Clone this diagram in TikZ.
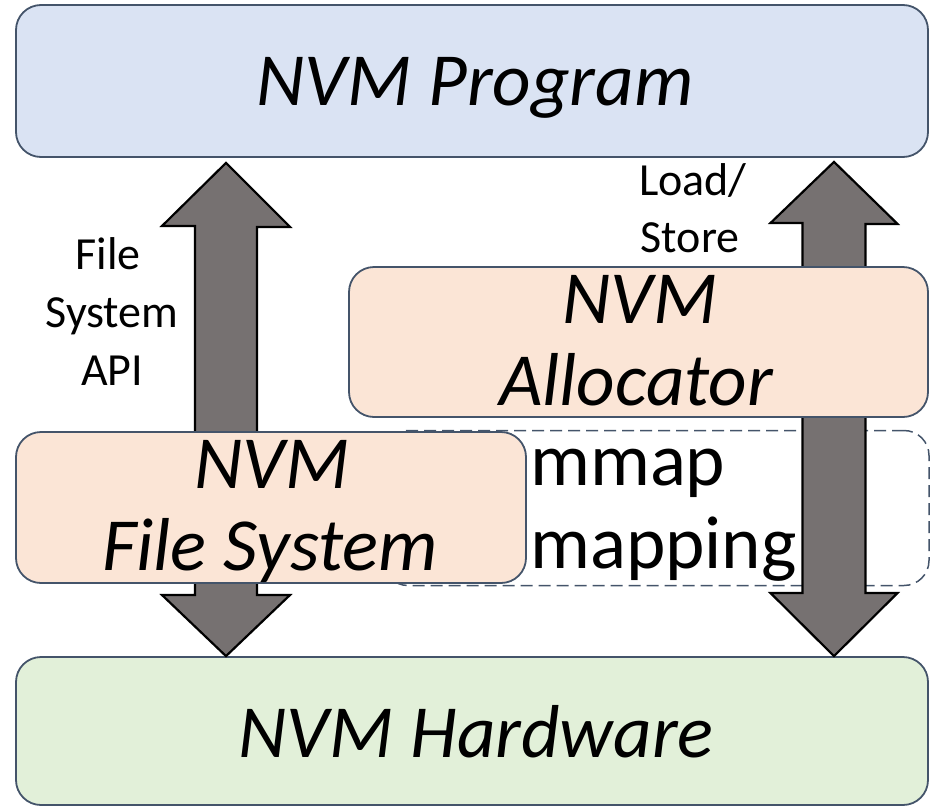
\documentclass[tikz,border=0pt]{standalone}
\usepackage{fontspec}
\setmainfont{Carlito}
\definecolor{edge}{HTML}{44546A}
\definecolor{progfill}{HTML}{DAE3F3}
\definecolor{swfill}{HTML}{FBE5D6}
\definecolor{hwfill}{HTML}{E2F0D9}
\definecolor{arrowfill}{HTML}{767171}
\begin{document}
\begin{tikzpicture}[x=1pt,y=-1pt,
  layer/.style={draw=edge, line width=1.8pt, rounded corners=25pt, inner sep=0pt},
  bigtext/.style={font=\fontsize{75}{82}\selectfont\itshape, anchor=base, inner sep=0pt},
  uptext/.style={font=\fontsize{75}{82}\selectfont, anchor=base west, fill=white, inner sep=2pt},
  smalltext/.style={font=\fontsize{46}{57}\selectfont, anchor=base, inner sep=0pt},
  bigarrow/.style={draw=black, line width=2.2pt, fill=arrowfill, line join=miter}]
\useasboundingbox (0,0) rectangle (931,806);

% top and bottom layers
\node[layer, fill=progfill, minimum width=912pt, minimum height=152pt] (prog) at (472,81) {};
\node[bigtext] (progtxt) at (475,105) {NVM Program};
\node[layer, fill=hwfill, minimum width=912pt, minimum height=148pt] (hw) at (472,731) {};
\node[bigtext] (hwtxt) at (476,757) {NVM Hardware};

% mmap region
\node[draw=edge, line width=1.5pt, dashed, dash pattern=on 12pt off 6pt,
  rounded corners=25pt, minimum width=546pt, minimum height=155pt]
  (mmapbox) at (656,508) {};
\node[uptext] (mmap1) at (528,485) {mmap};
\node[uptext] (mmap2) at (528,568) {mapping};

% block arrows between program and hardware
\coordinate (la) at (226,0);
\coordinate (ra) at (834,0);
\draw[bigarrow] (la |- prog.south) ++(0,5)
  -- ++(64,64) -- ++(-33,0) -- (257,595) -- ++(33,0) -- (la |- hw.north)
  -- (162,595) -- ++(33,0) -- (195,226) -- ++(-33,0) -- cycle;
\draw[bigarrow] (ra |- prog.south) ++(0,4)
  -- ++(63.5,62) -- ++(-32,0) -- (865.5,593) -- ++(32,0) -- (ra |- hw.north)
  -- (770.5,593) -- ++(32,0) -- (802.5,223) -- ++(-32,0) -- cycle;

% software layers
\node[layer, fill=swfill, minimum width=579pt, minimum height=150pt] (alloc) at (638.5,342) {};
\node[bigtext] (alloc1) at (640,323) {NVM};
\node[bigtext] (alloc2) at (636,405) {Allocator};
\node[layer, fill=swfill, minimum width=510pt, minimum height=151pt] (fs) at (271,507.5) {};
\node[bigtext] (fs1) at (272,488) {NVM};
\node[bigtext] (fs2) at (270,570) {File System};

% arrow labels
\node[smalltext] (api1) at (108,269) {File};
\node[smalltext] (api2) at (112,327) {System};
\node[smalltext] (api3) at (112,385) {API};
\node[smalltext] (ls1) at (693,195) {Load/};
\node[smalltext] (ls2) at (690,252) {Store};
\end{tikzpicture}
\end{document}
